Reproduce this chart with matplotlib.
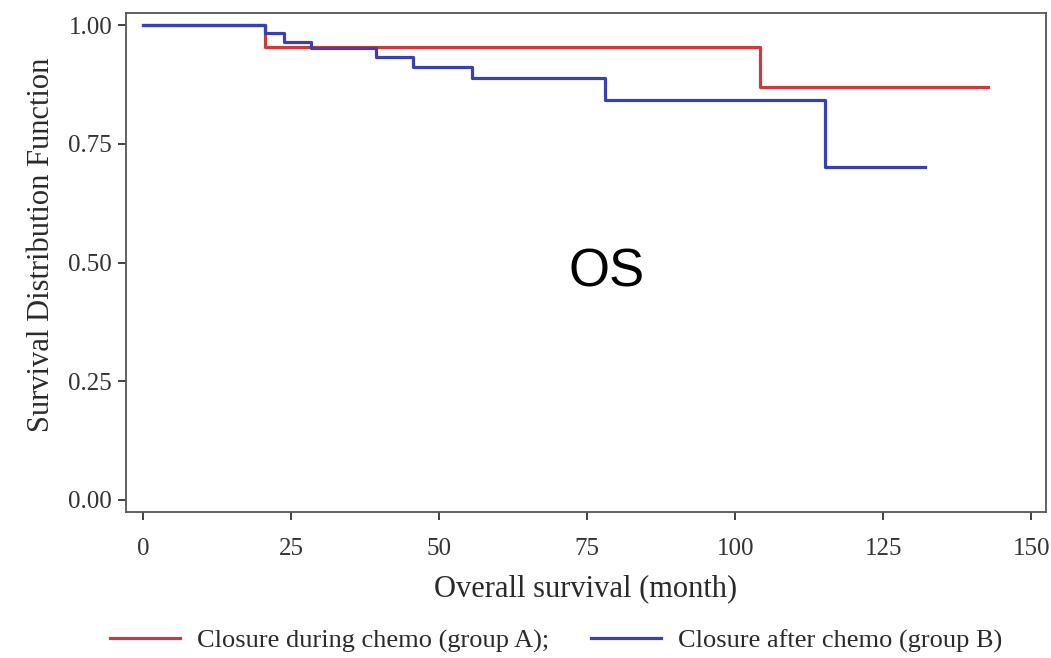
import matplotlib
matplotlib.use("Agg")
import matplotlib.pyplot as plt

# Kaplan-Meier steps
t_a = [0, 20.6, 104.1, 142.7]
s_a = [1.0, 0.954, 0.869, 0.869]

t_b = [0, 20.6, 23.7, 28.4, 39.4, 45.6, 55.6, 78.0, 115.2, 132.1]
s_b = [1.0, 0.983, 0.964, 0.952, 0.933, 0.911, 0.888, 0.842, 0.701, 0.701]

lab_a = "Closure during chemo (group A);"
lab_b = "Closure after chemo (group B)"

xticks = [0, 25, 50, 75, 100, 125, 150]
yticks = [0.0, 0.25, 0.5, 0.75, 1.0]

plt.rcParams['font.family'] = ['Liberation Serif', 'DejaVu Serif']

fig = plt.figure(figsize=(10.51, 6.58), dpi=100)
ax = fig.add_axes([0.1199, 0.2219, 0.8754, 0.7583])

ax.step(t_a, s_a, where='post', color='#cc3a3e', lw=2.3, label=lab_a)
ax.step(t_b, s_b, where='post', color='#3a40b0', lw=2.3, label=lab_b)

ax.set_xlim(-2.9, 152.5)
ax.set_ylim(-0.0253, 1.0253)
ax.set_xticks(xticks)
ax.set_xticklabels([str(v) for v in xticks])
ax.set_yticks(yticks)
ax.set_yticklabels(["%.2f" % v for v in yticks])

for sp in ax.spines.values():
    sp.set_color('#555555')
    sp.set_linewidth(1.3)
ax.tick_params(colors='#333333', labelsize=18, length=6, width=1.3)
ax.tick_params(axis='x', pad=13)
ax.tick_params(axis='y', pad=4)

ax.set_xlabel("Overall survival (month)", fontsize=22, color='#2a2a2a', labelpad=10)
ax.set_ylabel("Survival Distribution Function", fontsize=22, color='#2a2a2a')
ax.yaxis.set_label_coords(-0.076, 0.535)

ax.text(78.2, 0.48, "OS", fontsize=38, family='Liberation Sans', ha='center', va='center', color='black')

fig.legend(loc='center', bbox_to_anchor=(0.529, 0.026), ncol=2, frameon=False,
           fontsize=19, handlelength=2.65, columnspacing=1.6, handletextpad=0.65,
           labelcolor='#2a2a2a')

fig.savefig("out.png", dpi=100)
